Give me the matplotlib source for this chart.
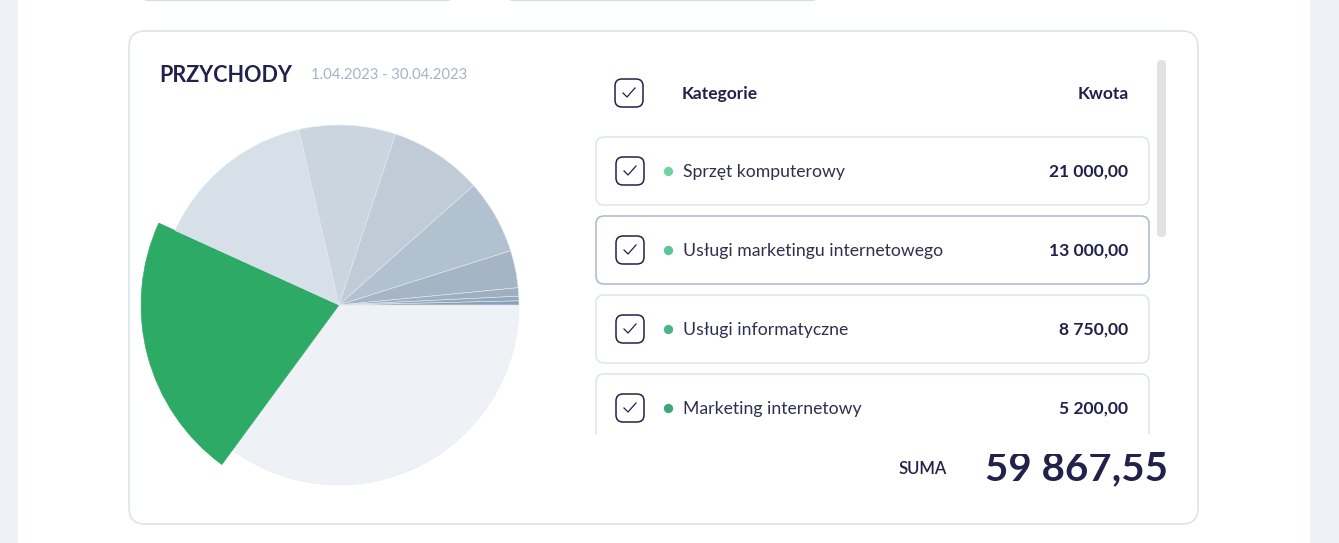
import matplotlib.pyplot as plt
from matplotlib.patches import FancyBboxPatch, Rectangle

plt.rcParams['font.family'] = ['Lato', 'DejaVu Sans']

# data
categories = ['Sprzęt komputerowy', 'Usługi marketingu internetowego', 'Usługi informatyczne',
              'Marketing internetowy', 'Pozostałe 1', 'Pozostałe 2', 'Pozostałe 3',
              'Pozostałe 4', 'Pozostałe 5', 'Pozostałe 6']
amounts = [21000, 13000, 8750, 5200, 5000, 4000, 2000, 450, 250, 217.55]
slice_colors = ['#eef2f7', '#2dab66', '#d7dfe8', '#cbd5df', '#bfcbd7', '#b2c1cf',
                '#a6b5c5', '#9dafc1', '#94a8bc', '#8aa0b8']
dot_colors = ['#6fd3a8', '#5cc495', '#4ab585', '#3da57a']
highlight = 1
shown_rows = 4

title = 'PRZYCHODY'
date_range = '1.04.2023 - 30.04.2023'


def fmt(v):
    s = f'{v:,.2f}'
    return s.replace(',', ' ').replace('.', ',')


W, H = 1339, 543
fig = plt.figure(figsize=(W / 100, H / 100), dpi=100, facecolor='#eef2f7')
ax = fig.add_axes([0, 0, 1, 1])

navy = '#21214b'

# pie
wedges, _ = ax.pie(amounts, colors=slice_colors, startangle=0, counterclock=True,
                   center=(339, 305), radius=180,
                   wedgeprops=dict(edgecolor='#e6ebf1', linewidth=0.4))
wedges[highlight].set_radius(198)
wedges[highlight].set_edgecolor(slice_colors[highlight])
for w in wedges:
    w.set_zorder(3)

ax.set_xlim(0, W)
ax.set_ylim(H, 0)
ax.set_aspect('auto')
ax.axis('off')


def rbox(x0, y0, x1, y1, r, fc='white', ec='#dde4ee', lw=1.0, z=1):
    p = FancyBboxPatch((x0, y0), x1 - x0, y1 - y0,
                       boxstyle=f'round,pad=0,rounding_size={r}',
                       fc=fc, ec=ec, lw=lw, zorder=z)
    ax.add_patch(p)


def checkbox(cx, cy):
    rbox(cx - 14, cy - 14, cx + 14, cy + 14, 7, ec=navy, lw=1.1, z=4)
    ax.plot([cx - 6, cx - 2, cx + 6], [cy, cy + 4, cy - 5], color=navy, lw=0.9, zorder=5)


# background panels
ax.add_patch(Rectangle((18, 0), 1292, H, fc='white', ec='none', zorder=0))
rbox(138, -40, 457, 0.5, 12, ec='#d5dde8', lw=1.0)
rbox(503, -40, 822, 0.5, 12, ec='#d5dde8', lw=1.0)
rbox(129, 31, 1198, 524, 16, ec='#dde4ee', lw=1.2)

# title
ax.text(159, 75, title, fontsize=15.5, fontweight='bold', color=navy, va='center', ha='left', zorder=5)
ax.text(311, 75, date_range, fontsize=10.7, color='#a3b4c8', va='center', ha='left', zorder=5)

# list header
checkbox(629, 93)
ax.text(682, 94, 'Kategorie', fontsize=12.5, fontweight='bold', color=navy, va='center', zorder=5)
ax.text(1129, 94, 'Kwota', fontsize=12.5, fontweight='bold', color=navy, va='center', ha='right', zorder=5)

# rows
row_top = 137
row_h = 68
row_gap = 79
for i in range(shown_rows):
    y0 = row_top + i * row_gap
    cy = y0 + row_h / 2
    ec = '#a9b9cf' if i == highlight else '#dde4ee'
    rbox(596, y0, 1149, y0 + row_h, 8, ec=ec, lw=1.1, z=2)
    checkbox(630, cy)
    ax.scatter([668], [cy], s=45, color=dot_colors[i], zorder=5, linewidths=0)
    ax.text(683, cy + 1, categories[i], fontsize=12.7, color='#2f2f50', va='center', zorder=5)
    ax.text(1128, cy + 1, fmt(amounts[i]), fontsize=12.6, fontweight='bold', color=navy,
            va='center', ha='right', zorder=5)

# clip list bottom
ax.add_patch(Rectangle((590, 433.5), 560, 20, fc='white', ec='none', zorder=6))

# scrollbar
rbox(1157, 60, 1166, 237, 4, fc='#e2e2e2', ec='none', z=3)

# total
ax.text(947, 469, 'SUMA', fontsize=12, fontweight='semibold', color=navy, va='center', ha='right', zorder=5)
ax.text(1168, 469, fmt(sum(amounts)), fontsize=29, fontweight='bold', color=navy,
        va='center', ha='right', zorder=5)

fig.savefig('out.png', dpi=100, facecolor=fig.get_facecolor())
